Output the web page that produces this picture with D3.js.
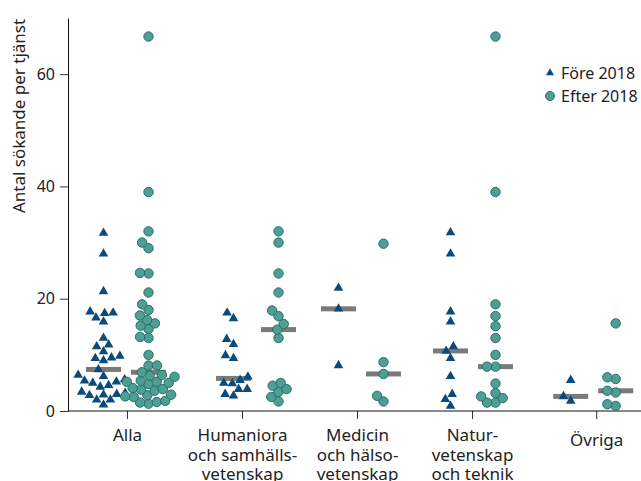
<!DOCTYPE html>
<html>
<head>
<meta charset="utf-8">
<script src="https://cdn.jsdelivr.net/npm/d3@7"></script>
<style>
  body { margin: 0; background: #fff; }
  text { font-family: "Noto Sans", sans-serif; fill: #222; }
</style>
</head>
<body>
<div id="my_dataviz"></div>
<script>
// categories (x axis labels, one line per entry)
var categories = ["Alla", "Humaniora", "Medicin", "Natur", "Övriga"];
var categoryLines = [
  ["Alla"],
  ["Humaniora", "och samhälls-", "vetenskap"],
  ["Medicin", "och hälso-", "vetenskap"],
  ["Natur-", "vetenskap", "och teknik"],
  ["Övriga"]
];
var seriesNames = ["Före 2018", "Efter 2018"];
var yTicks = [0, 20, 40, 60];

// number of applicants per post
var allaFore = [31.7, 28.0, 21.3, 17.7, 17.5, 17.4, 16.6, 15.9, 13.0, 11.8, 11.5, 10.6, 9.8, 9.5, 9.4, 9.0,
                7.4, 6.4, 6.2, 5.6, 5.4, 5.2, 5.0, 4.6, 4.3, 3.4, 3.2, 3.0, 2.9, 2.8, 2.0, 2.0, 1.1];
var allaEfter = [66.7, 39.0, 32.0, 30.0, 29.0, 24.6, 24.5, 21.1, 19.0, 18.0, 17.0, 16.2, 15.6, 15.2, 14.6,
                 13.2, 13.0, 10.0, 8.1, 8.1, 6.9, 6.4, 6.3, 6.1, 5.4, 5.2, 5.2, 5.0, 4.8, 4.1, 3.9, 3.8,
                 3.6, 2.9, 2.8, 2.6, 2.5, 1.8, 1.6, 1.5, 1.3];
var humFore = [17.5, 16.5, 12.8, 11.9, 9.9, 9.4, 6.1, 5.5, 5.0, 4.9, 3.9, 3.9, 3.0, 2.7];
var humEfter = [32.0, 30.0, 24.5, 21.1, 17.9, 16.9, 15.5, 14.5, 13.0, 5.0, 4.5, 3.9, 3.4, 2.5, 1.7];
var medFore = [21.9, 18.2, 8.1];
var medEfter = [29.8, 8.7, 6.6, 2.7, 1.7];
var natFore = [31.8, 28.0, 17.7, 15.9, 11.5, 10.7, 9.4, 6.2, 3.0, 2.1, 0.9];
var natEfter = [66.7, 39.0, 19.0, 16.9, 15.1, 13.0, 10.0, 7.9, 7.9, 4.9, 3.2, 2.6, 2.3, 1.5, 1.5];
var ovrFore = [5.5, 2.6, 1.8];
var ovrEfter = [15.6, 6.0, 5.7, 3.6, 3.3, 1.2, 0.9];

var foreByGroup = [allaFore, humFore, medFore, natFore, ovrFore];
var efterByGroup = [allaEfter, humEfter, medEfter, natEfter, ovrEfter];

var blue = "#0b4a7d", teal = "#4f9e94", tealDark = "#25716a", grey = "#7a7a7a";

var width = 641, height = 481;
var svg = d3.select("#my_dataviz")
  .append("svg")
    .attr("width", width)
    .attr("height", height);

// scales
var y = d3.scaleLinear().domain([0, 70]).range([411, 18]);
// Övriga sits a little further out than the even spacing of the others
var slots = [0, 1, 2, 3, 4.08];
var xSlot = d3.scaleLinear().domain([0, 4]).range([127, 587]);
var x = d3.scaleOrdinal().domain(categories).range(slots.map(xSlot));
var groupShift = [-1, 14, 4, 1, -3];
var dodge = 22.5;

// y axis
var yAxis = svg.append("g")
  .attr("transform", "translate(68,0)")
  .call(d3.axisLeft(y).tickValues(yTicks).tickSize(8).tickSizeOuter(0).tickPadding(5));
yAxis.selectAll("text").style("font-size", "16px").attr("fill", "#222");
yAxis.selectAll("line").attr("stroke", "#333");
yAxis.select(".domain").attr("stroke", "#111");

svg.append("text")
  .attr("transform", "rotate(-90)")
  .attr("x", -116)
  .attr("y", 25)
  .attr("text-anchor", "middle")
  .style("font-size", "17px")
  .text("Antal sökande per tjänst");

// x axis
var xAxis = svg.append("g")
  .attr("transform", "translate(0,411)")
  .call(d3.axisBottom(x).tickSize(8).tickSizeOuter(0).tickPadding(0));
xAxis.select(".domain").remove();
xAxis.selectAll("line").attr("stroke", "#333");
svg.append("line")
  .attr("x1", 68).attr("x2", width)
  .attr("y1", 411).attr("y2", 411)
  .attr("stroke", "#111");

xAxis.selectAll(".tick text")
  .style("font-size", "17px")
  .attr("fill", "#222")
  .attr("y", 0)
  .attr("dy", null)
  .text(null)
  .each(function(d) {
    var t = d3.select(this);
    var k = categories.indexOf(d);
    categoryLines[k].forEach(function(line, j) {
      t.append("tspan")
        .attr("x", 0)
        .attr("y", (k === 4 ? 35 : 30) + j * 19.5)
        .text(line);
    });
  });

// simple beeswarm: place points in ascending order at the smallest free offset
function swarm(values, D) {
  var pts = values.map(function(v) { return {v: v, py: y(v)}; })
    .sort(function(a, b) { return a.v - b.v; });
  var placed = [];
  pts.forEach(function(p) {
    var cands = [0];
    placed.forEach(function(q) {
      var dy = Math.abs(p.py - q.py);
      if (dy < D) {
        var dx = Math.sqrt(D * D - dy * dy);
        cands.push(q.dx + dx, q.dx - dx);
      }
    });
    var ok = cands.filter(function(c) {
      return placed.every(function(q) {
        var ddx = c - q.dx, ddy = p.py - q.py;
        return ddx * ddx + ddy * ddy >= D * D - 0.01;
      });
    });
    ok.sort(function(a, b) { return Math.abs(a) - Math.abs(b) || a - b; });
    p.dx = ok[0];
    placed.push(p);
  });
  return pts;
}

var triangle = d3.symbol().type(d3.symbolTriangle).size(40);

categories.forEach(function(cat, i) {
  var cFore = x(cat) + groupShift[i] - dodge;
  var cEfter = x(cat) + groupShift[i] + dodge;
  var g = svg.append("g");

  // medians
  [[foreByGroup[i], cFore], [efterByGroup[i], cEfter]].forEach(function(s) {
    g.append("rect")
      .attr("x", s[1] - 17.5)
      .attr("y", y(d3.median(s[0])) - 2.5)
      .attr("width", 35)
      .attr("height", 5)
      .attr("fill", grey);
  });

  g.selectAll("path.fore")
    .data(swarm(foreByGroup[i], 8.5))
    .enter()
    .append("path")
      .attr("class", "fore")
      .attr("d", triangle)
      .attr("transform", function(d) { return "translate(" + (cFore + d.dx) + "," + d.py + ")"; })
      .attr("fill", blue);

  g.selectAll("circle.efter")
    .data(swarm(efterByGroup[i], 8.5))
    .enter()
    .append("circle")
      .attr("class", "efter")
      .attr("cx", function(d) { return cEfter + d.dx; })
      .attr("cy", function(d) { return d.py; })
      .attr("r", 4.7)
      .attr("fill", teal)
      .attr("stroke", tealDark)
      .attr("stroke-width", 1);
});

// legend
var legend = svg.append("g").attr("transform", "translate(550,73)");
legend.append("path")
  .attr("d", d3.symbol().type(d3.symbolTriangle).size(28))
  .attr("fill", blue);
legend.append("circle")
  .attr("cy", 23)
  .attr("r", 4.5)
  .attr("fill", teal)
  .attr("stroke", tealDark);
legend.selectAll("text")
  .data(seriesNames)
  .enter()
  .append("text")
    .attr("x", 11)
    .attr("y", function(d, i) { return 5.5 + i * 23; })
    .style("font-size", "16px")
    .text(function(d) { return d; });
</script>
</body>
</html>
